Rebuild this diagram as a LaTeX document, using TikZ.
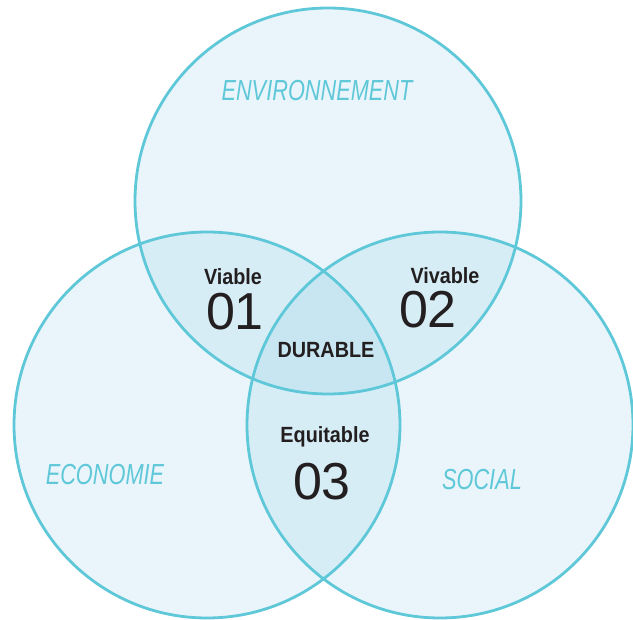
\documentclass[tikz,border=0pt]{standalone}
\usepackage{fontspec}
\setmainfont{Liberation Sans}
\newfontfamily\narrowfont[FakeStretch=0.9]{Liberation Sans}
\newfontfamily\pillarfont[FakeStretch=0.75]{Liberation Sans}
\definecolor{rim}{RGB}{94,199,216}
\definecolor{wash}{RGB}{133,200,227}
\definecolor{ink}{RGB}{35,31,32}
\begin{document}
\begin{tikzpicture}[x=1pt,y=-1pt,
	zone/.style={circle,inner sep=0pt,minimum size=386pt,fill=wash,fill opacity=0.18},
	rim/.style={draw=rim,line width=2.8pt},
	pillar/.style={anchor=base,text=rim,font=\pillarfont\itshape\fontsize{29}{29}\selectfont},
	quality/.style={anchor=base,text=ink,font=\narrowfont\bfseries\fontsize{22}{22}\selectfont},
	number/.style={anchor=base,text=ink,font=\fontsize{52}{52}\selectfont}]
	\useasboundingbox (0,0) rectangle (633,620);
	
	% the three circles
	\node[zone] (env) at (328,201) {};
	\node[zone] (eco) at (207,425) {};
	\node[zone] (soc) at (440,425) {};
	\draw[rim] (env.center) circle[radius=193];
	\draw[rim] (eco.center) circle[radius=193];
	\draw[rim] (soc.center) circle[radius=193];
	
	\node[pillar] (envlabel) at (317,101) {ENVIRONNEMENT};
	\node[pillar] (ecolabel) at (105,485) {ECONOMIE};
	\node[pillar] (soclabel) at (482,490) {SOCIAL};
	
	% overlaps
	\node[quality] (viable) at (233,285) {Viable};
	\node[number] (n01) at (235,330) {01};
	\node[quality] (vivable) at (445,284) {Vivable};
	\node[number] (n02) at (428,328) {02};
	\node[quality] (equitable) at (325,443) {Equitable};
	\node[number] (n03) at (322,500) {03};
	\node[quality] (durable) at (326,358) {DURABLE};
\end{tikzpicture}
\end{document}
